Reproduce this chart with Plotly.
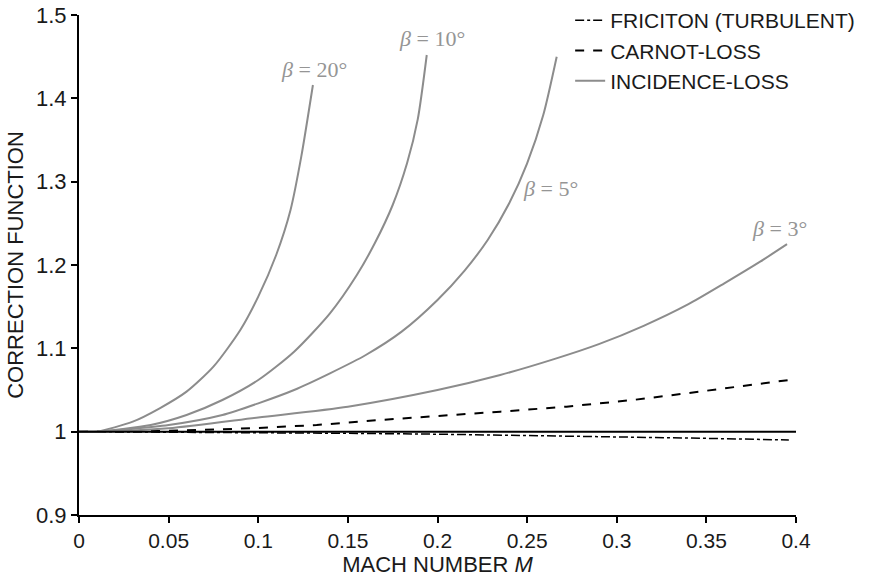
import plotly.graph_objects as go

# Incidence-loss curves
m_b20 = [0, 0.01, 0.03, 0.045, 0.06, 0.075, 0.09, 0.1, 0.11, 0.118, 0.124, 0.1305]
f_b20 = [1.0, 1.0, 1.012, 1.028, 1.048, 1.078, 1.122, 1.162, 1.212, 1.266, 1.330, 1.416]

m_b10 = [0, 0.01, 0.04, 0.06, 0.08, 0.1, 0.12, 0.14, 0.155, 0.165, 0.175, 0.183, 0.189, 0.194]
f_b10 = [1.0, 1.0, 1.008, 1.020, 1.038, 1.062, 1.096, 1.142, 1.188, 1.226, 1.272, 1.322, 1.375, 1.452]

m_b5 = [0, 0.01, 0.05, 0.08, 0.1, 0.12, 0.14, 0.16, 0.18, 0.2, 0.215, 0.228, 0.24, 0.25, 0.259, 0.2665]
f_b5 = [1.0, 1.0, 1.008, 1.020, 1.034, 1.050, 1.070, 1.092, 1.120, 1.158, 1.193, 1.230, 1.274, 1.322, 1.380, 1.450]

m_b3 = [0, 0.01, 0.05, 0.1, 0.15, 0.2, 0.235, 0.265, 0.29, 0.315, 0.34, 0.36, 0.38, 0.395]
f_b3 = [1.0, 1.0, 1.004, 1.017, 1.030, 1.050, 1.068, 1.087, 1.105, 1.127, 1.153, 1.178, 1.204, 1.225]

# Carnot loss
m_carnot = [0, 0.05, 0.0954, 0.1326, 0.168, 0.196, 0.235, 0.272, 0.309, 0.346, 0.396]
f_carnot = [1.0, 1.001, 1.004, 1.008, 1.014, 1.018, 1.024, 1.030, 1.038, 1.048, 1.062]

# Friction (turbulent)
m_fric = [0, 0.05, 0.1, 0.15, 0.2, 0.25, 0.3, 0.35, 0.396]
f_fric = [1.0, 0.9995, 0.999, 0.998, 0.997, 0.9955, 0.994, 0.992, 0.990]

# Reference line
m_ref = [0, 0.4]
f_ref = [1.0, 1.0]

beta_labels = ["<i>β</i> = 20°", "<i>β</i> = 10°", "<i>β</i> = 5°", "<i>β</i> = 3°"]
beta_label_pos = [(0.131, 1.435), (0.197, 1.472), (0.2628, 1.292), (0.391, 1.244)]

x_ticks = [0, 0.05, 0.1, 0.15, 0.2, 0.25, 0.3, 0.35, 0.4]
y_ticks = [0.9, 1.0, 1.1, 1.2, 1.3, 1.4, 1.5]
y_tick_text = ["0.9", "1", "1.1", "1.2", "1.3", "1.4", "1.5"]

GRAY = "#8c8c8c"

fig = go.Figure()
fig.add_trace(go.Scatter(x=m_fric, y=f_fric, mode="lines", name="FRICITON (TURBULENT)",
                         line=dict(color="black", width=1.5, dash="dashdot")))
fig.add_trace(go.Scatter(x=m_carnot, y=f_carnot, mode="lines", name="CARNOT-LOSS",
                         line=dict(color="black", width=2, dash="dash")))
first = True
for mx, fy in [(m_b20, f_b20), (m_b10, f_b10), (m_b5, f_b5), (m_b3, f_b3)]:
    fig.add_trace(go.Scatter(x=mx, y=fy, mode="lines", name="INCIDENCE-LOSS",
                             showlegend=first,
                             line=dict(color=GRAY, width=2, shape="spline", smoothing=0.7)))
    first = False
fig.add_trace(go.Scatter(x=m_ref, y=f_ref, mode="lines", showlegend=False,
                         line=dict(color="black", width=2)))

for txt, (ax, ay) in zip(beta_labels, beta_label_pos):
    fig.add_annotation(x=ax, y=ay, text=txt, showarrow=False, xanchor="center", yanchor="middle",
                       font=dict(family="Liberation Serif, serif", size=22, color="#959595"))

fig.update_layout(
    width=869, height=577,
    margin=dict(l=79, r=73, t=15, b=62, autoexpand=False),
    plot_bgcolor="white", paper_bgcolor="white",
    font=dict(family="Liberation Sans, Arial, sans-serif", size=21, color="#1a1a1a"),
    legend=dict(x=0.685, y=1.03, xanchor="left", yanchor="top", bgcolor="rgba(0,0,0,0)",
                font=dict(size=21), tracegroupgap=0),
    xaxis=dict(range=[0, 0.4], tickvals=x_ticks, ticks="outside", ticklen=6, tickwidth=1.5,
               tickcolor="black", showline=True, linecolor="black", linewidth=2, showgrid=False,
               zeroline=False, tickfont=dict(size=21),
               title=dict(text="MACH NUMBER <i>M</i>", standoff=5, font=dict(size=22))),
    yaxis=dict(range=[0.9, 1.5], tickvals=y_ticks, ticktext=y_tick_text,
               ticks="outside", ticklen=6, tickwidth=1.5,
               tickcolor="black", showline=True, linecolor="black", linewidth=2, showgrid=False,
               zeroline=False, tickfont=dict(size=22),
               title=dict(text="CORRECTION FUNCTION", standoff=6, font=dict(size=22))),
)

fig.write_html("out.html")
